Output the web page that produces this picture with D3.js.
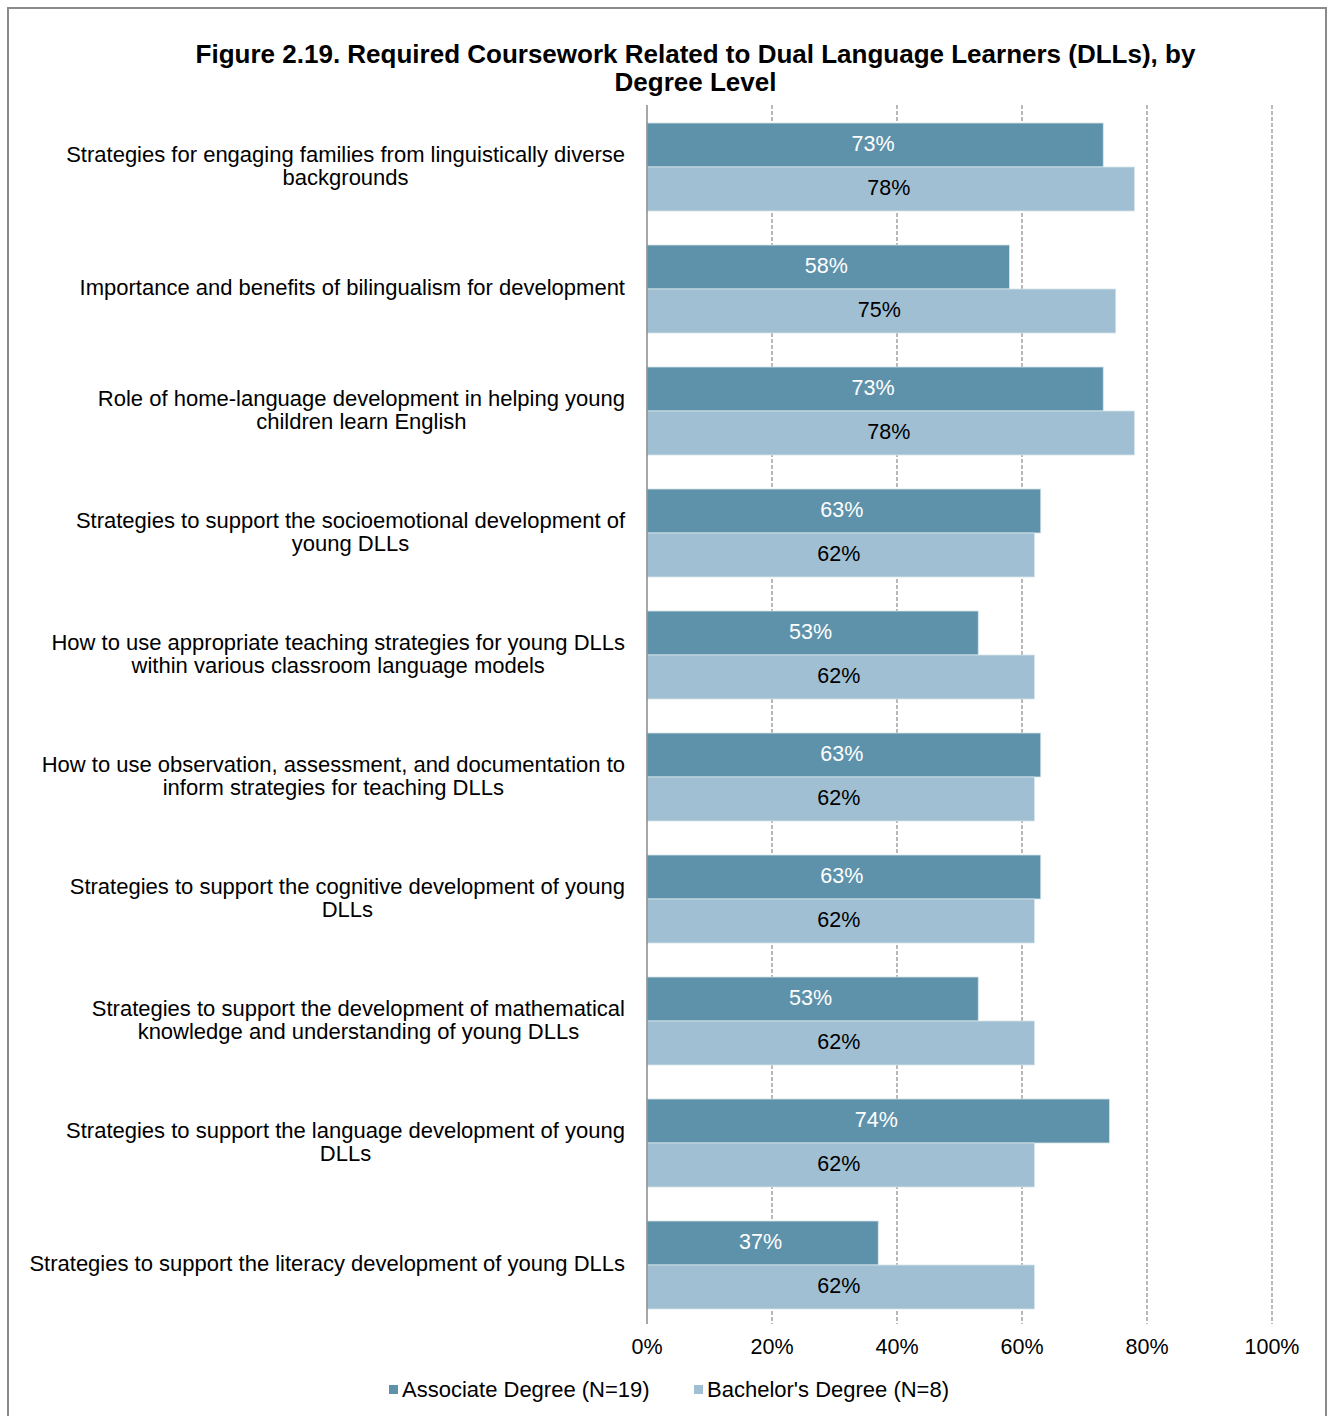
<!DOCTYPE html>
<html><head><meta charset="utf-8">
<script src="https://cdn.jsdelivr.net/npm/d3@7"></script>
<style>
body{margin:0;background:#fff;}
text{font-family:"Liberation Sans",Arial,Helvetica,sans-serif;}
</style></head>
<body>
<svg id="chart" width="1331" height="1416"></svg>
<script>
const titleLines = ["Figure 2.19. Required Coursework Related to Dual Language Learners (DLLs), by", "Degree Level"];
const categories = [
  ["Strategies for engaging families from linguistically diverse", "backgrounds"],
  ["Importance and benefits of bilingualism for development"],
  ["Role of home-language development in helping young", "children learn English"],
  ["Strategies to support the socioemotional development of", "young DLLs"],
  ["How to use appropriate teaching strategies for young DLLs", "within various classroom language models"],
  ["How to use observation, assessment, and documentation to", "inform strategies for teaching DLLs"],
  ["Strategies to support the cognitive development of young", "DLLs"],
  ["Strategies to support the development of mathematical", "knowledge and understanding of young DLLs"],
  ["Strategies to support the language development of young", "DLLs"],
  ["Strategies to support the literacy development of young DLLs"]
];
const associateValues = [73, 58, 73, 63, 53, 63, 63, 53, 74, 37];
const bachelorValues  = [78, 75, 78, 62, 62, 62, 62, 62, 62, 62];
const seriesNames = ["Associate Degree (N=19)", "Bachelor's Degree (N=8)"];
const xTicks = [0, 20, 40, 60, 80, 100];
const colors = ["#5E92AB", "#A0BFD3"];

const svg = d3.select("#chart");
// frame
svg.append("rect").attr("x", 8).attr("y", 8).attr("width", 1318).attr("height", 1430)
  .attr("fill", "none").attr("stroke", "#8a8a8a").attr("stroke-width", 2);

// title
svg.append("g").selectAll("text").data(titleLines).join("text")
  .attr("x", 695.5).attr("y", (d, i) => 63 + i * 28)
  .attr("text-anchor", "middle").attr("font-weight", "bold").attr("font-size", 26)
  .attr("fill", "#000").text(d => d);

const x = d3.scaleLinear().domain([0, 100]).range([647, 1272]);
const y = d3.scaleBand().domain(d3.range(categories.length)).range([106, 1326]).paddingInner(34/122).paddingOuter(17/122);
const bandH = y.bandwidth() / 2;

// gridlines
svg.append("g").selectAll("line").data(xTicks.filter(t => t > 0)).join("line")
  .attr("x1", d => x(d)).attr("x2", d => x(d)).attr("y1", 105).attr("y2", 1324)
  .attr("stroke", "#8a8a8a").attr("stroke-width", 1.2).attr("stroke-dasharray", "4,2");

// bars
const series = [associateValues, bachelorValues];
series.forEach((vals, s) => {
  svg.append("g").selectAll("rect").data(vals).join("rect")
    .attr("x", x(0)).attr("y", (d, i) => y(i) + s * bandH)
    .attr("width", d => x(d) - x(0)).attr("height", bandH)
    .attr("fill", colors[s]).attr("stroke", "#d8e5ec").attr("stroke-width", 0.8);
  svg.append("g").selectAll("text").data(vals).join("text")
    .attr("x", d => (x(0) + x(d)) / 2 - 2).attr("y", (d, i) => y(i) + s * bandH + bandH / 2 + 6)
    .attr("text-anchor", "middle").attr("font-size", 21.5)
    .attr("fill", s === 0 ? "#fff" : "#000").text(d => d + "%");
});

// zero axis
svg.append("line").attr("x1", x(0)).attr("x2", x(0)).attr("y1", 105).attr("y2", 1324)
  .attr("stroke", "#8a8a8a").attr("stroke-width", 1.5);

// x tick labels
svg.append("g").selectAll("text").data(xTicks).join("text")
  .attr("x", d => x(d)).attr("y", 1354).attr("text-anchor", "middle")
  .attr("font-size", 21.5).attr("fill", "#000").text(d => d + "%");

// category labels
const labelRight = 625;
const lg = svg.append("g");
categories.forEach((lines, i) => {
  const t = lg.append("text").attr("font-size", 22).attr("fill", "#000");
  const cy = y(i) + y.bandwidth() / 2;
  const n = lines.length;
  const spans = lines.map((ln, j) =>
    t.append("tspan").attr("y", cy + 6.4 + (j - (n - 1) / 2) * 23).text(ln));
  let maxW = 0;
  spans.forEach(ts => { maxW = Math.max(maxW, ts.node().getComputedTextLength()); });
  const cx = labelRight - maxW / 2;
  spans.forEach(ts => ts.attr("x", cx).attr("text-anchor", "middle"));
});

// legend
const legX = [389, 694];
seriesNames.forEach((name, i) => {
  svg.append("rect").attr("x", legX[i]).attr("y", 1385).attr("width", 9).attr("height", 9).attr("fill", colors[i]);
  svg.append("text").attr("x", legX[i] + 13).attr("y", 1397).attr("font-size", 22).attr("fill", "#000").text(name);
});
</script>
</body></html>
